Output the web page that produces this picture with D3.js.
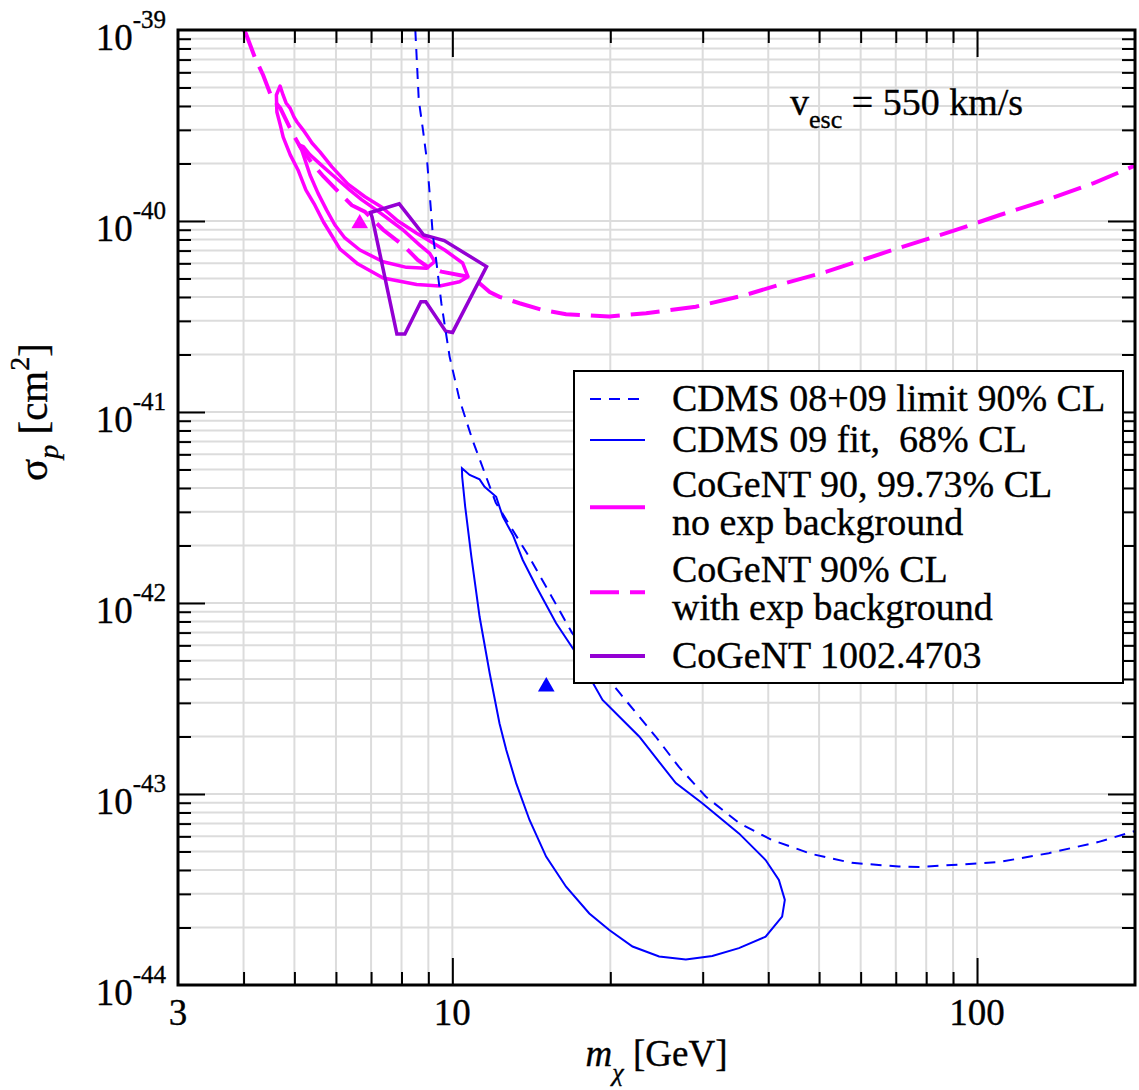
<html>
  <head>
    <meta charset="utf-8"/>
    <style>
      body {
        margin: 0;
        background: white;
      }
      text {
        font-family: "Liberation Serif", "Times New Roman", serif;
        fill: black;
        stroke: black;
        stroke-width: 0.35px;
        white-space: pre;
      }
      .grid line {
        stroke: #dcdcdc;
        stroke-width: 2;
      }
      .ticks line {
        stroke: black;
        stroke-width: 2;
      }
      .ticks path {
        display: none;
      }
    </style>
    <script src="https://d3js.org/d3.v7.min.js"></script>
  </head>
  <body>
    <script>
    var width = 1139, height = 1090;
    var margin = {left: 178, right: 4, top: 30, bottom: 105};

    // axes
    var xDomain = [3, 200];
    var yDomain = [1e-44, 1e-39];
    var xTickLabels = [3, 10, 100];
    var yTickExponents = [-39, -40, -41, -42, -43, -44];

    // CDMS 08+09 limit 90% CL  [mass GeV, sigma cm^2]
    var cdmsLimit = [
      [8.50, 1.0e-39], [8.63, 4.3e-40], [8.79, 3.0e-40], [8.96, 2.0e-40], [9.05, 1.4e-40],
      [9.18, 8.4e-41], [9.28, 6.8e-41], [9.53, 3.7e-41], [9.88, 1.95e-41], [10.32, 1.16e-41],
      [10.93, 7.1e-42], [12.1, 3.35e-42], [14.0, 1.75e-42], [16.9, 7.0e-43], [20.8, 3.4e-43],
      [24.4, 2.0e-43], [27.0, 1.39e-43], [30.4, 9.7e-44], [35.2, 7.05e-44], [40.6, 5.75e-44],
      [48.4, 4.85e-44], [57.7, 4.36e-44], [70.9, 4.17e-44], [78, 4.15e-44], [110, 4.4e-44],
      [137, 4.9e-44], [170, 5.6e-44], [200, 6.4e-44]
    ];

    // CDMS 09 fit 68% CL (closed contour)
    var cdmsFit = [
      [10.43, 5.07e-42], [10.79, 4.68e-42], [11.27, 4.44e-42], [11.52, 4.06e-42], [12.12, 3.60e-42],
      [12.48, 2.83e-42], [13.04, 2.27e-42], [13.62, 1.68e-42], [14.45, 1.22e-42], [15.77, 7.83e-43],
      [17.21, 5.46e-43], [19.33, 3.11e-43], [22.70, 2.00e-43], [26.66, 1.14e-43], [29.95, 8.94e-44],
      [35.17, 6.22e-44], [39.54, 4.51e-44], [41.91, 3.55e-44], [43.02, 2.79e-44], [42.51, 2.28e-44],
      [39.54, 1.79e-44], [35.17, 1.56e-44], [31.29, 1.42e-44], [27.86, 1.36e-44], [24.78, 1.41e-44],
      [22.05, 1.59e-44], [19.91, 1.94e-44], [18.24, 2.37e-44], [16.47, 3.27e-44], [15.09, 4.70e-44],
      [14.03, 7.31e-44], [13.23, 1.14e-43], [12.67, 1.70e-43], [12.30, 2.34e-43], [11.78, 4.29e-43],
      [11.27, 8.47e-43], [10.87, 1.75e-42], [10.58, 3.19e-42], [10.44, 4.58e-42]
    ];
    var cdmsBest = [[15.1, 3.65e-43]];

    // CoGeNT 99.73% CL, no exp background (outer contour)
    var cogentOuter = [
      [4.696, 5.09e-40], [4.757, 4.57e-40], [4.820, 4.15e-40], [4.906, 3.90e-40], [4.992, 3.50e-40],
      [5.058, 3.30e-40], [5.193, 3.00e-40], [5.308, 2.75e-40], [5.401, 2.56e-40], [5.593, 2.30e-40],
      [5.895, 1.92e-40], [6.324, 1.56e-40], [6.813, 1.34e-40], [7.339, 1.18e-40], [7.838, 1.01e-40],
      [8.55, 8.63e-41], [9.67, 7.05e-41], [10.46, 6.03e-41], [10.71, 5.11e-41], [10.32, 4.81e-41],
      [9.46, 4.57e-41], [8.55, 4.65e-41], [7.38, 5.03e-41], [6.61, 5.95e-41], [6.11, 7.13e-41],
      [5.68, 9.88e-41], [5.47, 1.21e-40], [5.26, 1.45e-40], [5.08, 1.85e-40], [4.91, 2.22e-40],
      [4.76, 2.75e-40], [4.70, 3.18e-40], [4.63, 3.72e-40], [4.62, 4.57e-40]
    ];

    // CoGeNT 90% CL, no exp background (inner contour)
    var cogentInner = [
      [5.103, 2.50e-40], [5.200, 2.45e-40], [5.355, 2.22e-40], [5.675, 1.92e-40], [6.000, 1.68e-40],
      [6.379, 1.45e-40], [6.723, 1.29e-40], [7.170, 1.14e-40], [8.056, 8.97e-41], [8.667, 7.48e-41],
      [9.055, 6.77e-41], [9.254, 6.12e-41], [8.925, 5.65e-41], [8.177, 5.72e-41], [7.38, 6.12e-41],
      [6.664, 7.05e-41], [6.240, 8.15e-41], [5.973, 9.53e-41], [5.760, 1.14e-40], [5.545, 1.40e-40],
      [5.355, 1.74e-40], [5.239, 2.09e-40], [5.164, 2.35e-40]
    ];
    var cogentBest = [[6.66, 9.7e-41]];

    // CoGeNT 90% CL with exp background
    var cogentExpBg = [
      [4.0, 1.0e-39], [4.04, 9.6e-40], [4.21, 7.1e-40], [4.36, 5.8e-40], [4.53, 4.4e-40],
      [4.70, 3.9e-40], [4.94, 2.94e-40], [5.13, 2.44e-40], [5.40, 2.01e-40], [5.68, 1.71e-40],
      [6.15, 1.37e-40], [6.43, 1.21e-40], [6.81, 1.12e-40], [7.38, 9.0e-41], [8.12, 7.33e-41],
      [8.59, 6.25e-41], [8.99, 5.73e-41], [9.53, 5.43e-41], [10.71, 5.11e-41], [11.27, 4.72e-41],
      [11.78, 4.25e-41], [12.30, 4.01e-41], [13.43, 3.71e-41], [14.87, 3.42e-41], [16.47, 3.25e-41],
      [19.9, 3.16e-41], [23.4, 3.29e-41], [29.1, 3.56e-41], [36.2, 4.10e-41], [41.9, 4.63e-41],
      [51.5, 5.41e-41], [69.0, 7.05e-41], [90.0, 8.87e-41], [110.5, 1.075e-40], [133.7, 1.27e-40],
      [166.9, 1.58e-40], [200, 1.95e-40]
    ];

    // CoGeNT 1002.4703 region
    var cogent1002 = [
      [6.98, 1.108e-40], [7.92, 1.23e-40], [8.82, 8.45e-41], [9.65, 7.90e-41], [11.62, 5.77e-41],
      [10.01, 2.61e-41], [9.71, 2.65e-41], [8.90, 3.78e-41], [8.71, 3.78e-41], [8.12, 2.56e-41],
      [7.84, 2.56e-41], [7.03, 1.05e-40]
    ];

    var legendLabels = [
      ["CDMS 08+09 limit 90% CL"],
      ["CDMS 09 fit,  68% CL"],
      ["CoGeNT 90, 99.73% CL", "no exp background"],
      ["CoGeNT 90% CL", "with exp background"],
      ["CoGeNT 1002.4703"]
    ];

    var svg = d3.select("body").append("svg")
                .attr("width", width)
                .attr("height", height);

    var x = d3.scaleLog().domain(xDomain).range([margin.left, width - margin.right]);
    var y = d3.scaleLog().domain(yDomain).range([height - margin.bottom, margin.top]);
    var x0 = x.range()[0], x1 = x.range()[1], y0 = y.range()[0], y1 = y.range()[1];

    var xTicks = x.ticks().filter(d => d > xDomain[0] && d < xDomain[1]);
    var yTicks = y.ticks().filter(d => d > yDomain[0] * 1.01 && d < yDomain[1] * 0.99);
    var isMajor = d => Math.abs(Math.log10(d) - Math.round(Math.log10(d))) < 1e-6;

    // grid
    var grid = svg.append("g").attr("class", "grid");
    grid.selectAll(".gx").data(xTicks).enter().append("line")
        .attr("x1", d => x(d)).attr("x2", d => x(d))
        .attr("y1", y1).attr("y2", y0);
    grid.selectAll(".gy").data(yTicks).enter().append("line")
        .attr("y1", d => y(d)).attr("y2", d => y(d))
        .attr("x1", x0).attr("x2", x1);

    svg.append("clipPath").attr("id", "plot")
       .append("rect").attr("x", x0).attr("y", y1)
       .attr("width", x1 - x0).attr("height", y0 - y1);

    var plot = svg.append("g").attr("clip-path", "url(#plot)");
    var openLine = d3.line().x(d => x(d[0])).y(d => y(d[1]));
    var closedLine = d3.line().x(d => x(d[0])).y(d => y(d[1])).curve(d3.curveLinearClosed);

    var magenta = "#ff00ff", purple = "#9400d3", blue = "#0000ff";

    plot.append("path").attr("d", closedLine(cogentOuter))
        .attr("fill", "none").attr("stroke", magenta).attr("stroke-width", 3.5)
        .attr("stroke-linejoin", "round");
    plot.append("path").attr("d", closedLine(cogentInner))
        .attr("fill", "none").attr("stroke", magenta).attr("stroke-width", 3.5)
        .attr("stroke-linejoin", "round");
    plot.append("path").attr("d", openLine(cogentExpBg))
        .attr("fill", "none").attr("stroke", magenta).attr("stroke-width", 4)
        .attr("stroke-dasharray", "29,11");
    plot.append("path").attr("d", closedLine(cogent1002))
        .attr("fill", "none").attr("stroke", purple).attr("stroke-width", 3.5);
    plot.append("path").attr("d", openLine(cdmsLimit))
        .attr("fill", "none").attr("stroke", blue).attr("stroke-width", 2)
        .attr("stroke-dasharray", "11,8");
    plot.append("path").attr("d", closedLine(cdmsFit))
        .attr("fill", "none").attr("stroke", blue).attr("stroke-width", 2);

    var tri = d3.symbol(d3.symbolTriangle).size(120);
    plot.selectAll(".cbest").data(cogentBest).enter().append("path")
        .attr("d", tri).attr("fill", magenta)
        .attr("transform", d => "translate(" + x(d[0]) + "," + y(d[1]) + ")");
    plot.selectAll(".dbest").data(cdmsBest).enter().append("path")
        .attr("d", tri).attr("fill", blue)
        .attr("transform", d => "translate(" + x(d[0]) + "," + y(d[1]) + ")");

    // ticks on all four sides, pointing inward
    function addTicks(axis, tx, ty) {
      svg.append("g").attr("class", "ticks")
         .attr("transform", "translate(" + tx + "," + ty + ")")
         .call(axis);
    }
    var xMinor = xTicks.filter(d => !isMajor(d)), xMajor = xTicks.filter(isMajor);
    var yMinor = yTicks.filter(d => !isMajor(d)), yMajor = yTicks.filter(isMajor);
    addTicks(d3.axisBottom(x).tickValues(xMinor).tickSize(-13).tickFormat(""), 0, y0);
    addTicks(d3.axisBottom(x).tickValues(xMajor).tickSize(-27).tickFormat(""), 0, y0);
    addTicks(d3.axisTop(x).tickValues(xMinor).tickSize(-13).tickFormat(""), 0, y1);
    addTicks(d3.axisTop(x).tickValues(xMajor).tickSize(-27).tickFormat(""), 0, y1);
    addTicks(d3.axisLeft(y).tickValues(yMinor).tickSize(-13).tickFormat(""), x0, 0);
    addTicks(d3.axisLeft(y).tickValues(yMajor).tickSize(-27).tickFormat(""), x0, 0);
    addTicks(d3.axisRight(y).tickValues(yMinor).tickSize(-13).tickFormat(""), x1, 0);
    addTicks(d3.axisRight(y).tickValues(yMajor).tickSize(-27).tickFormat(""), x1, 0);

    svg.append("rect")
       .attr("x", x0).attr("y", y1).attr("width", x1 - x0).attr("height", y0 - y1)
       .attr("fill", "none").attr("stroke", "black").attr("stroke-width", 3);

    // tick labels
    svg.selectAll(".xl").data(xTickLabels).enter().append("text")
       .attr("x", d => x(d)).attr("y", y0 + 40)
       .attr("text-anchor", "middle").style("font-size", "37px")
       .text(d => d);

    var yl = svg.selectAll(".yl").data(yTickExponents).enter().append("text")
       .attr("x", x0 - 12).attr("y", d => y(Math.pow(10, d)) + 20)
       .attr("text-anchor", "end");
    yl.append("tspan").style("font-size", "37px").text("10");
    yl.append("tspan").style("font-size", "25px").attr("dy", -22).text(d => d);

    // axis titles
    var xt = svg.append("text")
       .attr("x", (x0 + x1) / 2).attr("y", y0 + 81)
       .attr("text-anchor", "middle").style("font-size", "37px");
    xt.append("tspan").style("font-style", "italic").text("m");
    xt.append("tspan").style("font-style", "italic").style("font-size", "26px").attr("dy", 15).text("χ");
    xt.append("tspan").attr("dy", -15).text(" [GeV]");

    var yt = svg.append("text")
       .attr("transform", "translate(47,412) rotate(-90)")
       .attr("text-anchor", "middle").style("font-size", "41px");
    yt.append("tspan").text("σ");
    yt.append("tspan").style("font-style", "italic").style("font-size", "28px").attr("dy", 11).text("p");
    yt.append("tspan").attr("dy", -11).text(" [cm");
    yt.append("tspan").style("font-size", "28px").attr("dy", -18).text("2");
    yt.append("tspan").attr("dy", 18).text("]");

    // annotation
    var ann = svg.append("text").attr("x", 790).attr("y", 115).style("font-size", "38px");
    ann.append("tspan").text("v");
    ann.append("tspan").style("font-size", "26px").attr("dy", 13).text("esc");
    ann.append("tspan").attr("dy", -13).text(" = 550 km/s");

    // legend
    var lg = svg.append("g");
    lg.append("rect").attr("x", 574).attr("y", 371).attr("width", 549).attr("height", 312)
      .attr("fill", "white").attr("stroke", "black").attr("stroke-width", 2);
    var legendStyles = [
      {color: blue, w: 2, dash: "11,8"},
      {color: blue, w: 2, dash: null},
      {color: magenta, w: 4, dash: null},
      {color: magenta, w: 4, dash: "29,11"},
      {color: purple, w: 4, dash: null}
    ];
    var legendBase = [411, 452, 497, 582, 668];
    legendLabels.forEach(function(lines, i) {
      var b = legendBase[i];
      var mid = b + (lines.length - 1) * 38.3 / 2;
      var ly = mid - (lines.length > 1 ? 9 : 12);
      lg.append("line").attr("x1", 590).attr("x2", 645)
        .attr("y1", ly).attr("y2", ly)
        .attr("stroke", legendStyles[i].color).attr("stroke-width", legendStyles[i].w)
        .attr("stroke-dasharray", legendStyles[i].dash);
      lines.forEach(function(t, j) {
        lg.append("text").attr("x", 672).attr("y", b + j * 38.3)
          .style("font-size", "38px").text(t);
      });
    });
    </script>
  </body>
</html>
